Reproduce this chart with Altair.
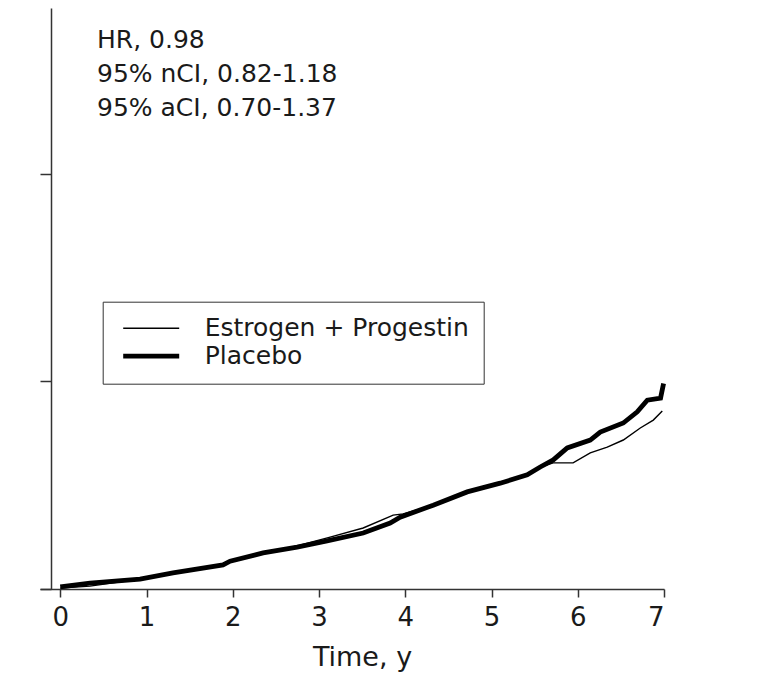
import altair as alt
import pandas as pd

# ---- data ----
groups = ["Estrogen + Progestin", "Placebo"]

ep_time = [0.0, 0.345, 0.925, 1.307, 1.887, 1.969, 2.352, 2.746, 3.129, 3.512, 3.860, 3.976,
           4.324, 4.718, 5.101, 5.414, 5.565, 5.716, 5.946, 6.145, 6.342, 6.528, 6.725, 6.876, 6.980]
ep_hazard = [0.0002, 0.0007, 0.0024, 0.0039, 0.0058, 0.0067, 0.0087, 0.0104, 0.0125, 0.0147, 0.0178,
             0.0181, 0.0202, 0.0234, 0.0255, 0.0275, 0.0294, 0.0304, 0.0304, 0.0328, 0.0342, 0.0359,
             0.0388, 0.0407, 0.0429]

pl_time = [0.0, 0.345, 0.925, 1.307, 1.887, 1.969, 2.352, 2.746, 3.094, 3.512, 3.825, 3.941,
           4.324, 4.718, 5.101, 5.414, 5.565, 5.716, 5.878, 6.145, 6.261, 6.528, 6.690, 6.806, 6.960, 6.995]
pl_hazard = [0.0005, 0.0014, 0.0024, 0.0039, 0.0058, 0.0067, 0.0087, 0.0101, 0.0116, 0.0135, 0.0159,
             0.0173, 0.0202, 0.0234, 0.0255, 0.0275, 0.0294, 0.0311, 0.0340, 0.0359, 0.0378, 0.0400,
             0.0427, 0.0455, 0.0460, 0.0495]

x_ticks = [0, 1, 2, 3, 4, 5, 6, 7]
y_ticks = [0, 0.05, 0.10]

notes = ["HR, 0.98", "95% nCI, 0.82-1.18", "95% aCI, 0.70-1.37"]
note_time = [0.426, 0.426, 0.426]
note_y = [0.1304, 0.1222, 0.1140]

FONT = "DejaVu Sans"

curves = pd.concat([
    pd.DataFrame({"t": ep_time, "v": ep_hazard, "group": groups[0]}),
    pd.DataFrame({"t": pl_time, "v": pl_hazard, "group": groups[1]}),
], ignore_index=True)

note_df = pd.DataFrame({"t": note_time, "v": note_y, "label": notes})

xscale = alt.Scale(domain=[-0.235, 7], nice=False, zero=False)
yscale = alt.Scale(domain=[0, 0.14], nice=False, zero=False)

legend = alt.Legend(
    title=None,
    orient="none",
    legendX=62.7,
    legendY=293.7,
    direction="vertical",
    strokeColor="#333333",
    padding=14,
    rowPadding=2,
    symbolType="M-5.6,0H5.6",
    symbolSize=100,
    symbolOffset=22,
    labelOffset=41,
    labelFont=FONT,
    labelFontSize=25,
    labelColor="#1a1a1a",
    labelLimit=400,
)

lines = alt.Chart(curves).mark_line(interpolate="linear").encode(
    x=alt.X("t:Q", scale=xscale,
            axis=alt.Axis(values=x_ticks, format="d", grid=False, tickSize=8,
                          labelPadding=7, labelFont=FONT, labelFontSize=26,
                          labelColor="#1a1a1a", domainColor="#333333", tickColor="#333333",
                          domainWidth=1.5, tickWidth=1.5,
                          title="Time, y", titleFont=FONT, titleFontSize=27,
                          titleFontWeight="normal", titleColor="#1a1a1a",
                          titleX=322, titleY=76, titleBaseline="alphabetic",
                          titleAlign="center")),
    y=alt.Y("v:Q", scale=yscale,
            axis=alt.Axis(values=y_ticks, labels=False, title=None, grid=False,
                          offset=-11, tickSize=11, domainColor="#333333",
                          tickColor="#333333", domainWidth=1.5, tickWidth=1.5)),
    color=alt.Color("group:N", scale=alt.Scale(domain=groups, range=["black", "black"]),
                    legend=legend),
    strokeWidth=alt.StrokeWidth("group:N", scale=alt.Scale(domain=groups, range=[1.4, 4.8]),
                                legend=legend),
)

text = alt.Chart(note_df).mark_text(
    align="left", baseline="alphabetic", font=FONT, fontSize=25, color="#1a1a1a"
).encode(
    x=alt.X("t:Q", scale=xscale),
    y=alt.Y("v:Q", scale=yscale),
    text="label:N",
)

chart = alt.layer(lines, text).properties(
    width=624,
    height=581,
    padding={"left": 40, "top": 8, "right": 64, "bottom": 85},
    autosize=alt.AutoSizeParams(type="none"),
    background="white",
).configure_view(stroke=None)

chart.save("out.html", embed_options={"renderer": "svg", "actions": False})
